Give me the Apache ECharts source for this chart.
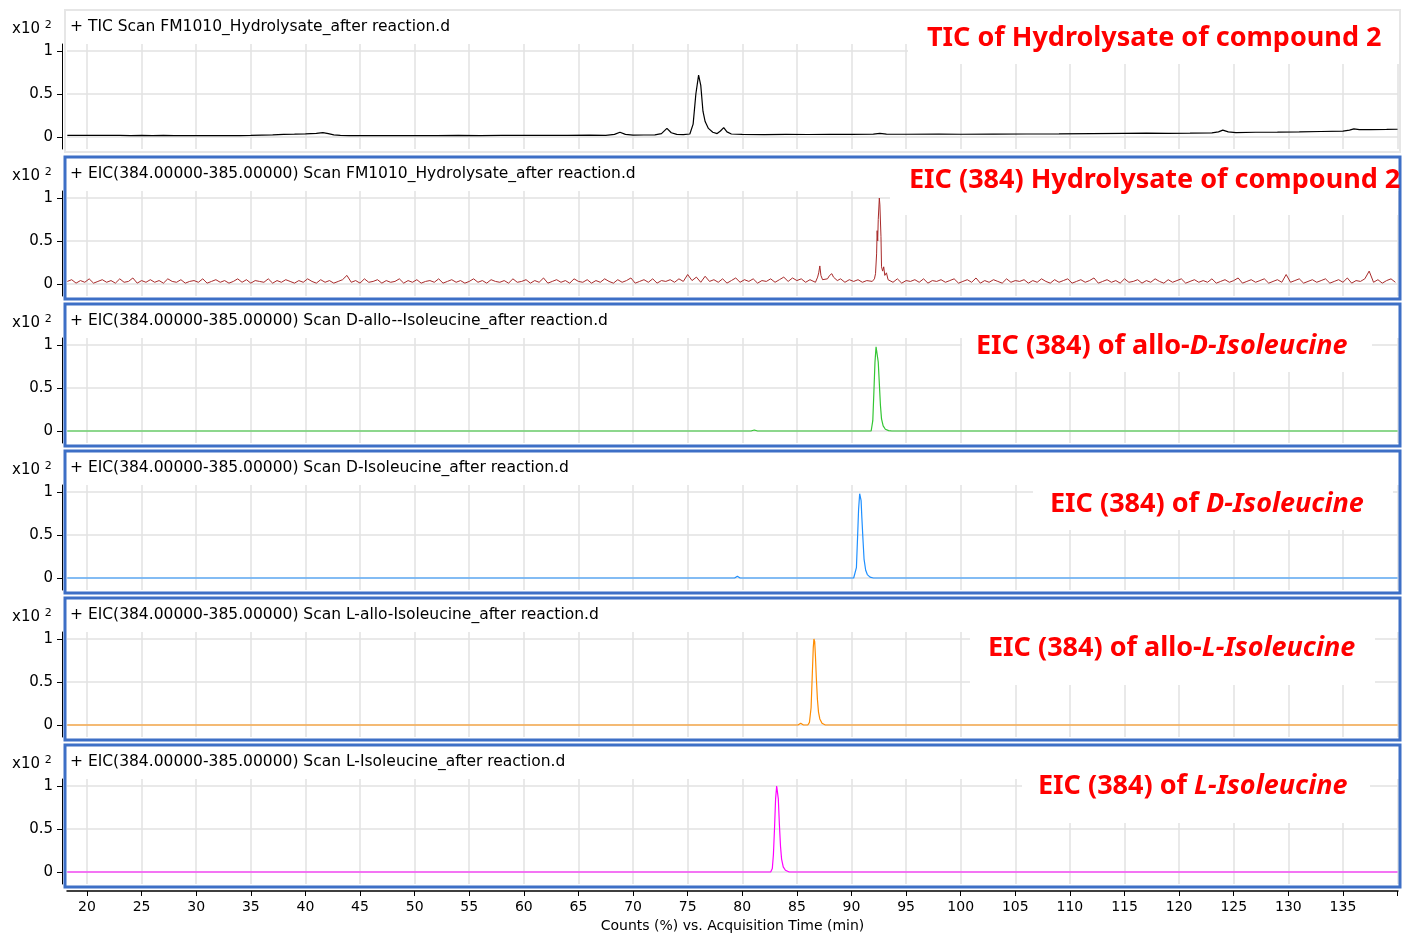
<!DOCTYPE html>
<html><head><meta charset="utf-8">
<script src="https://cdn.jsdelivr.net/npm/echarts@6/dist/echarts.min.js"></script>
<style>html,body{margin:0;padding:0;background:#fff}#c{width:1403px;height:935px}</style>
</head><body><div id="c"></div>
<script>
// ---------- data ----------
const xTicks = [20,25,30,35,40,45,50,55,60,65,70,75,80,85,90,95,100,105,110,115,120,125,130,135];
const xTickMarks = [20,25,30,35,40,45,50,55,60,65,70,75,80,85,90,95,100,105,110,115,120,125,130,135,140];
const yTicks = [0, 0.5, 1];
const xAxisName = 'Counts (%) vs. Acquisition Time (min)';
const yScaleLabel = 'x10';
const yScaleExp = '2';
const panelTitles = [
  '+ TIC Scan FM1010_Hydrolysate_after reaction.d',
  '+ EIC(384.00000-385.00000) Scan FM1010_Hydrolysate_after reaction.d',
  '+ EIC(384.00000-385.00000) Scan D-allo--Isoleucine_after reaction.d',
  '+ EIC(384.00000-385.00000) Scan D-Isoleucine_after reaction.d',
  '+ EIC(384.00000-385.00000) Scan L-allo-Isoleucine_after reaction.d',
  '+ EIC(384.00000-385.00000) Scan L-Isoleucine_after reaction.d'
];
const panelNotes = [
  '{n|TIC of Hydrolysate of compound 2}',
  '{n|EIC (384) Hydrolysate of compound 2}',
  '{n|EIC (384) of allo-}{i|D-Isoleucine}',
  '{n|EIC (384) of }{i|D-Isoleucine}',
  '{n|EIC (384) of allo-}{i|L-Isoleucine}',
  '{n|EIC (384) of }{i|L-Isoleucine}'
];
const lineColors = ['#000000','#a82a2a','#33c633','#1e8fff','#ff8c00','#ff00ff'];

// TIC (x10^2 counts) vs time (min)
const ticTrace = [[18.2,0.018],[19,0.02],[20,0.019],[21,0.02],[22,0.018],[23,0.019],[24,0.017],[25,0.018],[26,0.017],[27,0.018],[28,0.016],[29,0.017],[30,0.016],[31,0.017],[32,0.016],[33,0.017],[34,0.016],[35,0.018],[36,0.022],[37,0.025],[38,0.03],[39,0.033],[40,0.037],[41,0.042],[41.6,0.05],[42.1,0.04],[42.6,0.025],[43.2,0.018],[44,0.016],[45,0.017],[46,0.016],[47,0.017],[48,0.016],[50,0.017],[52,0.016],[54,0.018],[56,0.017],[58,0.018],[60,0.02],[62,0.019],[64,0.02],[66,0.021],[67.5,0.02],[68.3,0.03],[68.8,0.055],[69.3,0.03],[70,0.022],[71,0.023],[72,0.024],[72.6,0.04],[73.1,0.1],[73.5,0.05],[74,0.03],[74.6,0.028],[75.2,0.035],[75.5,0.15],[75.75,0.5],[76.0,0.72],[76.2,0.6],[76.4,0.3],[76.6,0.18],[76.9,0.1],[77.3,0.055],[77.7,0.04],[78.0,0.07],[78.3,0.11],[78.6,0.06],[79,0.035],[80,0.03],[82,0.028],[84,0.03],[86,0.029],[88,0.03],[90,0.031],[92,0.033],[92.6,0.042],[93.2,0.033],[95,0.032],[98,0.033],[100,0.032],[103,0.034],[106,0.035],[109,0.036],[112,0.04],[115,0.043],[117,0.044],[119,0.043],[121,0.044],[123,0.048],[123.6,0.06],[124,0.08],[124.5,0.06],[125.2,0.052],[127,0.055],[129,0.057],[131,0.06],[133,0.064],[135,0.068],[135.6,0.08],[136,0.095],[136.5,0.085],[137.5,0.086],[139,0.088],[140,0.09]];

const hydroNoiseStart = 18.2;
const hydroNoiseStep = 0.4;
const hydroNoise = [
 0.03,0.05,0.01,0.04,0.02,0.06,0.01,0.03,0.05,0.02,0.04,0.01,0.06,0.02,0.03,0.07,0.01,0.04,0.02,0.05,
 0.02,0.04,0.01,0.06,0.03,0.02,0.05,0.01,0.03,0.04,0.02,0.06,0.01,0.03,0.05,0.02,0.04,0.01,0.03,0.06,
 0.02,0.05,0.01,0.04,0.03,0.02,0.06,0.01,0.04,0.02,0.05,0.03,0.01,0.04,0.02,0.06,0.03,0.01,0.05,0.02,
 0.04,0.01,0.03,0.05,0.10,0.02,0.04,0.01,0.06,0.02,0.03,0.05,0.01,0.04,0.02,0.03,0.06,0.01,0.04,0.02,
 0.05,0.01,0.03,0.04,0.02,0.06,0.01,0.03,0.05,0.02,0.04,0.01,0.03,0.06,0.02,0.04,0.01,0.05,0.03,0.02,
 0.04,0.01,0.06,0.02,0.03,0.05,0.01,0.04,0.02,0.07,0.01,0.03,0.05,0.02,0.04,0.01,0.06,0.03,0.02,0.05,
 0.01,0.04,0.02,0.06,0.03,0.01,0.05,0.02,0.04,0.07,0.01,0.03,0.05,0.02,0.06,0.01,0.04,0.03,0.05,0.02,
 0.06,0.03,0.11,0.04,0.08,0.02,0.09,0.03,0.05,0.02,0.06,0.01,0.04,0.07,0.02,0.05,0.03,0.06,0.01,0.04,
 0.03,0.06,0.02,0.05,0.08,0.03,0.07,0.04,0.06,0.02,0.05,0.03,0.06,0.04,0.05,0.02,0.04,0.06,0.02,0.05,
 0.03,0.05,0.02,0.04,0.03,0.06,0.04,0.03,0.05,0.02,0.06,0.01,0.04,0.03,0.05,0.02,0.06,0.01,0.04,0.03,
 0.05,0.02,0.04,0.06,0.01,0.03,0.05,0.02,0.07,0.01,0.04,0.02,0.05,0.03,0.01,0.06,0.02,0.04,0.03,0.05,
 0.01,0.04,0.02,0.06,0.03,0.01,0.05,0.02,0.04,0.06,0.01,0.03,0.05,0.02,0.04,0.07,0.01,0.03,0.05,0.02,
 0.04,0.01,0.06,0.02,0.03,0.05,0.01,0.04,0.02,0.06,0.03,0.01,0.05,0.02,0.04,0.06,0.01,0.03,0.05,0.02,
 0.04,0.02,0.06,0.01,0.03,0.05,0.02,0.04,0.07,0.01,0.03,0.05,0.02,0.04,0.06,0.01,0.03,0.05,0.02,0.11,
 0.02,0.04,0.06,0.01,0.03,0.05,0.02,0.04,0.06,0.01,0.03,0.05,0.02,0.07,0.01,0.04,0.03,0.06,0.15,0.02,
 0.05,0.01,0.04,0.06,0.02
];
const hydroPeakWindows = [[86.6, 88.8], [91.8, 93.6]];
const hydroPeaks = [[86.7,0.02],[86.9,0.08],[87.0,0.13],[87.1,0.21],[87.2,0.1],[87.35,0.05],[87.5,0.03],[87.8,0.06],[88.0,0.1],[88.2,0.12],[88.35,0.08],[88.5,0.1],[88.7,0.04],
 [91.9,0.03],[92.1,0.06],[92.2,0.12],[92.3,0.35],[92.35,0.62],[92.4,0.5],[92.45,0.75],[92.55,1.0],[92.6,0.92],[92.7,0.55],[92.75,0.2],[92.85,0.15],[92.95,0.2],[93.05,0.1],[93.2,0.13],[93.35,0.05],[93.5,0.03]];

const eicAlloD = [[18.2,0],[40,0],[60,0],[80.8,0],[81.1,0.012],[81.4,0],[91.8,0],[91.95,0.12],[92.05,0.45],[92.15,0.8],[92.25,0.98],[92.3,1.0],[92.37,0.97],[92.45,0.8],[92.55,0.55],[92.65,0.3],[92.75,0.14],[92.9,0.06],[93.1,0.02],[93.4,0.005],[93.7,0],[140,0]];
const eicD = [[18.2,0],[40,0],[60,0],[79.3,0],[79.55,0.02],[79.8,0],[90.2,0],[90.3,0.02],[90.45,0.12],[90.55,0.45],[90.65,0.8],[90.75,0.98],[90.8,1.0],[90.88,0.9],[90.95,0.7],[91.05,0.45],[91.15,0.22],[91.3,0.09],[91.45,0.04],[91.7,0.01],[92,0],[140,0]];
const eicAlloL = [[18.2,0],[40,0],[60,0],[85.1,0],[85.35,0.02],[85.6,0],[86.0,0],[86.15,0.03],[86.3,0.2],[86.4,0.55],[86.5,0.9],[86.56,1.0],[86.63,0.97],[86.7,0.8],[86.78,0.55],[86.88,0.3],[86.98,0.15],[87.1,0.07],[87.3,0.02],[87.6,0],[140,0]];
const eicL = [[18.2,0],[40,0],[60,0],[81.9,0],[82.08,0.01],[82.3,0],[82.6,0],[82.75,0.04],[82.85,0.2],[82.95,0.5],[83.05,0.85],[83.15,1.0],[83.22,0.99],[83.3,0.85],[83.4,0.55],[83.5,0.3],[83.6,0.15],[83.75,0.06],[83.95,0.02],[84.3,0],[140,0]];

// ---------- build ----------
function buildHydro() {
  const pts = [];
  hydroNoise.forEach((v, i) => {
    const t = +(hydroNoiseStart + i * hydroNoiseStep).toFixed(2);
    if (!hydroPeakWindows.some(w => t >= w[0] && t <= w[1])) pts.push([t, v]);
  });
  return pts.concat(hydroPeaks).sort((a, b) => a[0] - b[0]);
}
const panelData = [ticTrace, buildHydro(), eicAlloD, eicD, eicAlloL, eicL];

const FONT = 'DejaVu Sans';
const ZERO0 = 137, STEP = 147;
const noteLayout = [
  {bx:908, by:12, bw:491, bh:52, tx:927, ty:38},
  {bx:890, by:159, bw:508, bh:56, tx:909, ty:180},
  {bx:962, by:322, bw:410, bh:50, tx:976, ty:346},
  {bx:1033, by:480, bw:360, bh:50, tx:1050, ty:504},
  {bx:970, by:623, bw:405, bh:62, tx:988, ty:648},
  {bx:1022, by:763, bw:348, bh:60, tx:1038, ty:786}
];

const grids = [], xAxes = [], yAxes = [], series = [], graphics = [];
panelData.forEach((data, k) => {
  const y0 = ZERO0 + STEP * k;
  const last = k === panelData.length - 1;
  grids.push({left: 67, right: 5, top: y0 - 93, height: 105});
  xAxes.push({
    type: 'value', gridIndex: k, min: 18.17, max: 140.04,
    offset: last ? 7 : 0,
    axisLine: {show: last, onZero: false, lineStyle: {color: '#000', width: 1.5}},
    axisTick: {show: last, customValues: xTickMarks, length: 5, lineStyle: {color: '#000', width: 1}},
    axisLabel: {show: last, customValues: xTicks, fontFamily: FONT, fontSize: 14, color: '#000', margin: 9},
    splitLine: {show: true, lineStyle: {color: '#e2e2e2', width: 1.5}},
    name: last ? xAxisName : '', nameLocation: 'middle', nameGap: 28,
    nameTextStyle: {fontFamily: FONT, fontSize: 14, color: '#000'}
  });
  yAxes.push({
    type: 'value', gridIndex: k, min: -0.1395, max: 1.0814, offset: 5,
    axisLine: {show: true, lineStyle: {color: '#000', width: 1}},
    axisTick: {show: true, customValues: yTicks, length: 5, lineStyle: {color: '#000'}},
    axisLabel: {customValues: yTicks, formatter: v => String(v), fontFamily: FONT, fontSize: 15, color: '#000', margin: 9},
    splitLine: {show: true, lineStyle: {color: '#e2e2e2', width: 1.5}}
  });
  series.push({
    type: 'line', xAxisIndex: k, yAxisIndex: k, data: data,
    showSymbol: false, symbol: 'none', animation: false, z: 3,
    lineStyle: {color: lineColors[k], width: k === 1 ? 1 : 1.2}
  });
  // panel frame
  graphics.push({type: 'rect', z: 1, silent: true,
    shape: {x: 65, y: y0 - 127, width: 1335, height: 142},
    style: {fill: 'none', stroke: k === 0 ? '#e6e6e6' : '#3d6fc6', lineWidth: k === 0 ? 2 : 3}});
  // panel title
  graphics.push({type: 'text', z: 10, silent: true, x: 70, y: y0 - 110,
    style: {text: panelTitles[k], font: '15.5px "' + FONT + '"', fill: '#000', verticalAlign: 'middle'}});
  // scale label
  graphics.push({type: 'text', z: 10, silent: true, x: 12, y: y0 - 108,
    style: {text: '{a|' + yScaleLabel + ' }{s|' + yScaleExp + '}', verticalAlign: 'middle',
      rich: {a: {fontFamily: FONT, fontSize: 15, fill: '#000'},
             s: {fontFamily: FONT, fontSize: 11, fill: '#000', padding: [0, 0, 8, 0]}}}});
  // annotation box + text
  const L = noteLayout[k];
  graphics.push({type: 'rect', z: 20, silent: true,
    shape: {x: L.bx, y: L.by, width: L.bw, height: L.bh}, style: {fill: '#fff'}});
  graphics.push({type: 'text', z: 21, silent: true, x: L.tx, y: L.ty,
    style: {text: panelNotes[k], verticalAlign: 'middle', fill: '#ff0000',
      rich: {n: {fontFamily: 'Noto Sans', fontWeight: 'bold', fontSize: 27, fill: '#ff0000'},
             i: {fontFamily: 'Noto Sans', fontWeight: 'bold', fontStyle: 'italic', fontSize: 27, fill: '#ff0000'}}}});
});

const chart = echarts.init(document.getElementById('c'));
chart.setOption({
  animation: false,
  backgroundColor: '#fff',
  grid: grids, xAxis: xAxes, yAxis: yAxes, series: series,
  graphic: {elements: graphics}
});
</script>
</body></html>
